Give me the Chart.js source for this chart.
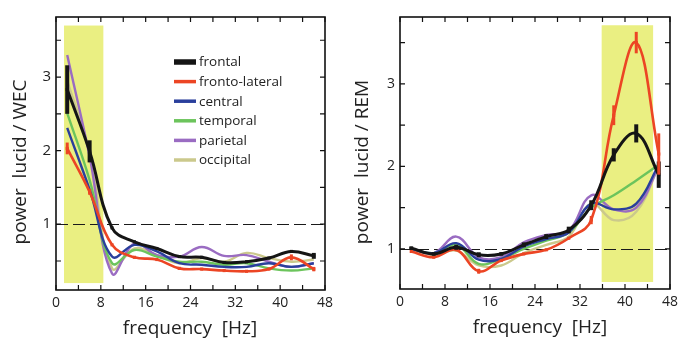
<!DOCTYPE html>
<html><head><meta charset="utf-8">
<script src="https://cdn.jsdelivr.net/npm/chart.js@4/dist/chart.umd.min.js"></script>
<style>
html,body{margin:0;padding:0;background:#fff;}
#w1{position:absolute;left:0;top:0;width:340px;height:355px;}
#w2{position:absolute;left:340px;top:0;width:343px;height:355px;}
</style></head><body>
<div id="w1"><canvas id="c1"></canvas></div>
<div id="w2"><canvas id="c2"></canvas></div>
<script>
// ---- data ----
const freqs = [2,6,10,14,18,22,26,30,34,38,42,46];
const seriesNames = ['frontal','fronto-lateral','central','temporal','parietal','occipital'];
const xTickLabels = [0,8,16,24,32,40,48];
const yTickLabels = [1,2,3];

// lucid / WEC
const wecFrontal   = [2.83,1.99,0.95,0.76,0.67,0.56,0.55,0.48,0.49,0.54,0.63,0.57];
const wecFrontLat  = [2.03,1.44,0.72,0.55,0.52,0.40,0.39,0.37,0.36,0.39,0.55,0.39];
const wecCentral   = [2.31,1.47,0.56,0.72,0.63,0.47,0.45,0.42,0.42,0.47,0.42,0.47];
const wecTemporal  = [2.51,1.60,0.47,0.65,0.56,0.49,0.49,0.45,0.47,0.40,0.37,0.40];
const wecParietal  = [3.30,1.92,0.33,0.74,0.58,0.56,0.69,0.57,0.58,0.49,0.42,0.47];
const wecOccipital = [2.95,1.97,0.40,0.67,0.58,0.47,0.54,0.49,0.61,0.54,0.49,0.52];
const wecFrontalErr  = [0.33,0.15,0,0,0,0,0,0,0,0,0,0.04];
const wecFrontLatErr = [0.08,0.04,0,0,0,0,0,0,0,0,0.04,0.03];

// lucid / REM
const remFrontal   = [1.01,0.94,1.02,0.93,0.94,1.05,1.15,1.23,1.53,2.14,2.40,1.90];
const remFrontLat  = [0.97,0.90,0.99,0.73,0.86,0.94,0.99,1.13,1.35,2.62,3.50,2.15];
const remCentral   = [1.00,0.95,1.07,0.87,0.88,1.03,1.12,1.20,1.55,1.48,1.55,2.02];
const remTemporal  = [1.00,0.95,1.05,0.82,0.88,1.00,1.10,1.20,1.50,1.65,1.83,2.02];
const remParietal  = [1.00,0.95,1.15,0.90,0.90,1.08,1.17,1.22,1.65,1.48,1.50,2.00];
const remOccipital = [1.00,0.93,0.98,0.80,0.80,0.95,1.05,1.15,1.55,1.35,1.45,2.00];
const remFrontalErr  = [0.02,0.02,0.03,0.03,0.02,0.03,0.03,0.04,0.06,0.08,0.11,0.16];
const remFrontLatErr = [0,0,0,0.03,0,0,0,0,0.05,0.12,0.13,0.25];

const colors = ['#151515','#ec4524','#2a3f9c','#6cc45c','#9a6cc2','#cbc98c'];
const widths = [3,2.6,2.4,2.4,2.4,2.4];
const legendWidths = [5.5,3.5,3.5,3.5,3.5,3.5];
const FONT = '"Open Sans", "Noto Sans", sans-serif';

function makeDatasets(arrs, errs){
  return arrs.map((a,i)=>({
    label: seriesNames[i],
    data: freqs.map((f,j)=>({x:f,y:a[j]})),
    borderColor: colors[i],
    backgroundColor: colors[i],
    borderWidth: widths[i],
    tension: 0.4,
    pointRadius: i<2 ? 2.2 : 0,
    pointStyle: 'rect',
    pointBorderWidth: 0,
    errs: errs[i] || null,
    fill:false
  }));
}

const framePlugin = {
  id:'frame',
  beforeDatasetsDraw(chart, args, opts){
    const {ctx, chartArea:a, scales:{x,y}} = chart;
    ctx.save();
    const b = opts.band;
    ctx.fillStyle = '#eaef82';
    const x0=x.getPixelForValue(b[0]), x1=x.getPixelForValue(b[1]);
    const y0=y.getPixelForValue(b[3]), y1=y.getPixelForValue(b[2]);
    ctx.fillRect(x0,y0,x1-x0,y1-y0);
    ctx.strokeStyle='#1a1a1a'; ctx.lineWidth=1.2; ctx.setLineDash([12,5]);
    const yy=Math.round(y.getPixelForValue(1))+0.5;
    ctx.beginPath(); ctx.moveTo(a.left,yy); ctx.lineTo(a.right,yy); ctx.stroke();
    ctx.restore();
  },
  afterDatasetsDraw(chart, args, opts){
    const {ctx, chartArea:a, scales:{x,y}} = chart;
    ctx.save();
    chart.data.datasets.forEach((ds,i)=>{
      if(!ds.errs) return;
      ctx.strokeStyle = ds.borderColor;
      ctx.lineWidth = i===0 ? 4 : 3;
      ds.data.forEach((p,j)=>{
        const e = ds.errs[j]; if(!e) return;
        const px = x.getPixelForValue(p.x);
        ctx.beginPath();
        ctx.moveTo(px, y.getPixelForValue(p.y-e));
        ctx.lineTo(px, y.getPixelForValue(p.y+e));
        ctx.stroke();
      });
    });
    ctx.strokeStyle='#111'; ctx.lineWidth=1.6;
    ctx.strokeRect(a.left,a.top,a.right-a.left,a.bottom-a.top);
    ctx.lineWidth=1.2;
    const L=5;
    for(let v=0; v<=48; v+=4){
      const px=x.getPixelForValue(v);
      ctx.beginPath();
      ctx.moveTo(px,a.bottom); ctx.lineTo(px,a.bottom-L);
      ctx.moveTo(px,a.top); ctx.lineTo(px,a.top+L);
      ctx.stroke();
    }
    for(let v=0.5; v<=3.5; v+=0.5){
      const py=y.getPixelForValue(v);
      if(py<a.top+1||py>a.bottom-1) continue;
      ctx.beginPath();
      ctx.moveTo(a.left,py); ctx.lineTo(a.left+L,py);
      ctx.moveTo(a.right,py); ctx.lineTo(a.right-L,py);
      ctx.stroke();
    }
    ctx.fillStyle='#222';
    ctx.font = '19px '+FONT;
    ctx.textAlign='center'; ctx.textBaseline='middle';
    ctx.fillText('frequency  [Hz]', opts.xTitle[0], opts.xTitle[1]);
    ctx.save();
    ctx.translate(opts.yTitle[0], opts.yTitle[1]);
    ctx.rotate(-Math.PI/2);
    ctx.font = '19px '+FONT;
    ctx.fillText(opts.yTitleText,0,0);
    ctx.restore();
    if(opts.legend){
      const lg=opts.legend;
      ctx.font='13.5px '+FONT; ctx.textAlign='left'; ctx.textBaseline='middle';
      chart.data.datasets.forEach((ds,i)=>{
        const yy = lg.y + i*lg.dy;
        ctx.strokeStyle=ds.borderColor; ctx.lineWidth=legendWidths[i];
        ctx.setLineDash([]);
        ctx.beginPath(); ctx.moveTo(lg.x,yy); ctx.lineTo(lg.x+22,yy); ctx.stroke();
        ctx.fillStyle='#222';
        ctx.fillText(ds.label, lg.x+25, yy+0.5);
      });
    }
    ctx.restore();
  }
};

function makeChart(id, datasets, ymin, ymax, yw, xh, pad, tickSize, plugOpts){
  return new Chart(document.getElementById(id), {
    type:'line',
    data:{datasets},
    options:{
      responsive:true, maintainAspectRatio:false, animation:false,
      layout:{padding:pad},
      plugins:{legend:{display:false}, tooltip:{enabled:false}, frame:plugOpts},
      scales:{
        x:{type:'linear', min:0, max:48,
           afterFit(s){s.height=xh;},
           afterBuildTicks(s){s.ticks = xTickLabels.map(v=>({value:v}));},
           grid:{display:false, drawTicks:false}, border:{display:false},
           ticks:{padding:5, color:'#222', font:{size:14, family:FONT}, maxRotation:0, autoSkip:false}},
        y:{type:'linear', min:ymin, max:ymax,
           afterFit(s){s.width=yw;},
           afterBuildTicks(s){s.ticks = yTickLabels.map(v=>({value:v}));},
           grid:{display:false, drawTicks:false}, border:{display:false},
           ticks:{padding:5, color:'#222', font:{size:tickSize, family:FONT}, autoSkip:false}}
      }
    },
    plugins:[framePlugin]
  });
}

makeChart('c1',
  makeDatasets([wecFrontal,wecFrontLat,wecCentral,wecTemporal,wecParietal,wecOccipital],[wecFrontalErr,wecFrontLatErr]),
  0.106, 3.816, 56, 65, {left:0,top:17,right:15,bottom:0}, 15,
  {band:[1.43,8.45,0.2,3.7], xTitle:[190,329], yTitle:[21,162], yTitleText:'power  lucid / WEC',
   legend:{x:174,y:62,dy:19.6}});

makeChart('c2',
  makeDatasets([remFrontal,remFrontLat,remCentral,remTemporal,remParietal,remOccipital],[remFrontalErr,remFrontLatErr]),
  0.515, 3.81, 60, 66, {left:0,top:17,right:13,bottom:0}, 14,
  {band:[35.85,45.0,0.6,3.71], xTitle:[200,328], yTitle:[23,162], yTitleText:'power  lucid / REM'});
</script>
</body></html>
